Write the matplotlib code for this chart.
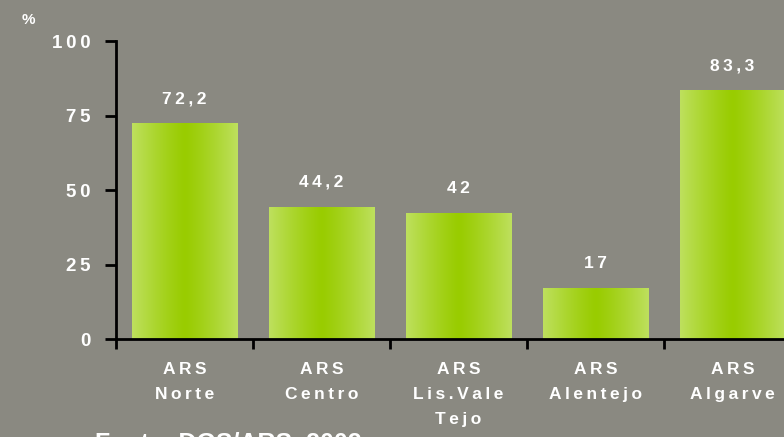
import numpy as np
import matplotlib.pyplot as plt

plt.rcParams['font.family'] = ['Liberation Sans', 'DejaVu Sans']

regioes = ['ARS\nNorte', 'ARS\nCentro', 'ARS\nLis.Vale\nTejo', 'ARS\nAlentejo', 'ARS\nAlgarve']
valores = [72.2, 44.2, 42, 17, 83.3]
rotulos = ['72,2', '44,2', '42', '17', '83,3']
yticks = [0, 25, 50, 75, 100]

fundo = '#8a8981'


def espacar(s):
    # espaçamento entre letras, como no original
    return '\n'.join('\u2009'.join(linha) for linha in s.split('\n'))


fig = plt.figure(figsize=(7.84, 4.37), dpi=100, facecolor=fundo)
ax = fig.add_axes([116 / 784, 0.2235, 685 / 784, 0.6820])
ax.set_facecolor(fundo)

# gradiente horizontal: claro nas bordas, verde forte no centro
t = np.linspace(-1, 1, 256)
w = np.abs(t) ** 1.2
c_centro = np.array([0x99, 0xcc, 0x00]) / 255
c_borda = np.array([0xbe, 0xe0, 0x5e]) / 255
grad = (c_centro[None, :] * (1 - w[:, None]) + c_borda[None, :] * w[:, None])[None, :, :]

largura = 0.77
for i, v in enumerate(valores):
    ax.imshow(grad, extent=[i - largura / 2, i + largura / 2, 0, v],
              aspect='auto', interpolation='bilinear', zorder=2)
    ax.text(i, v + 6, espacar(rotulos[i]), ha='center', va='bottom',
            color='white', fontsize=12.5, fontweight='bold')

ax.set_xlim(-0.5, 4.5)
ax.set_ylim(0, 100)

for s in ['top', 'right']:
    ax.spines[s].set_visible(False)
for s in ['left', 'bottom']:
    ax.spines[s].set_color('black')
    ax.spines[s].set_linewidth(2)

ax.set_yticks(yticks)
ax.set_yticklabels([espacar(str(y)) for y in yticks], color='white',
                   fontsize=13.5, fontweight='bold')
ax.tick_params(axis='y', length=8, width=2, direction='out', pad=10)

ax.set_xticks(np.arange(-0.5, 5, 1))
ax.set_xticklabels([])
ax.tick_params(axis='x', length=7, width=2, direction='out')
ax.set_xticks(np.arange(len(regioes)), minor=True)
ax.set_xticklabels([espacar(r) for r in regioes], minor=True, color='white',
                   fontsize=12.5, fontweight='bold', linespacing=1.85)
ax.tick_params(axis='x', which='minor', length=0, pad=16)

fig.text(28 / 784, 1 - 20 / 437, '%', color='white', fontsize=11,
         fontweight='bold', ha='center', va='center')
# fonte, cortada na borda inferior como no original
fig.text(95 / 784, 5 / 437, 'Fonte: DGS/ARS, 2002', color='white',
         fontsize=18, fontweight='bold', ha='left', va='top')

fig.savefig('out.png', dpi=100, facecolor=fundo)
